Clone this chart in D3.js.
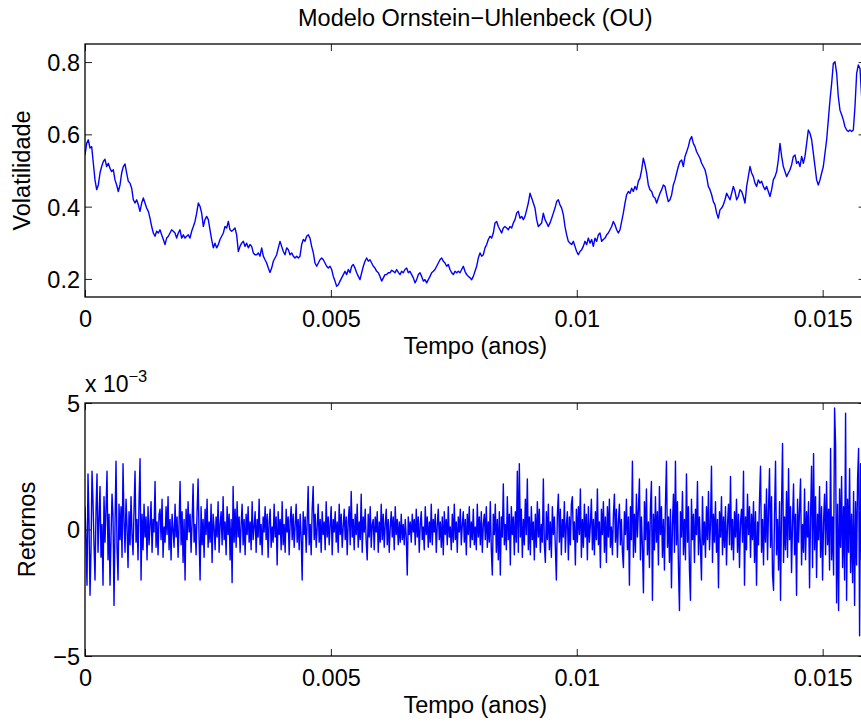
<!DOCTYPE html>
<html><head><meta charset="utf-8">
<script src="https://cdn.jsdelivr.net/npm/d3@7"></script>
<style>
body{margin:0;background:#fff}
svg{display:block;overflow:hidden}
text{font-family:"Liberation Sans",Arial,Helvetica,sans-serif;fill:#000}
</style>
</head><body>
<svg id="c" width="861" height="722"></svg>
<script>
// ---------- data ----------
const titleText = "Modelo Ornstein−Uhlenbeck (OU)";
const xLabel = "Tempo (anos)";
const yLabelTop = "Volatilidade";
const yLabelBottom = "Retornos";
const exponentBase = "x 10";
const exponentPower = "−3";
const xTicks = [0, 0.005, 0.01, 0.015];
const xTickLabels = ["0", "0.005", "0.01", "0.015"];
const volTicks = [0.2, 0.4, 0.6, 0.8];
const volTickLabels = ["0.2", "0.4", "0.6", "0.8"];
const retTicks = [-5e-3, 0, 5e-3];
const retTickLabels = ["−5", "0", "5"];
const tEnd = 0.015873;           // end of the time axis (anos)
const volStep = 3.389e-5;        // time step between volatility readings
const retStep = 2.035e-5;        // time step between return readings
const volDomain = [0.15, 0.85];
const retDomain = [-5e-3, 5e-3];

// volatility path
const volatility = [
0.543,0.575,0.585,0.562,0.566,0.520,0.474,0.447,0.460,0.493,
0.511,0.525,0.531,0.511,0.520,0.506,0.497,0.502,0.474,0.460,
0.442,0.460,0.493,0.511,0.518,0.493,0.470,0.465,0.451,0.419,
0.410,0.419,0.405,0.387,0.410,0.424,0.410,0.396,0.387,0.368,
0.345,0.327,0.318,0.332,0.327,0.336,0.322,0.309,0.295,0.313,
0.318,0.327,0.336,0.332,0.327,0.313,0.327,0.336,0.313,0.322,
0.313,0.318,0.322,0.313,0.332,0.345,0.359,0.382,0.410,0.401,
0.382,0.345,0.364,0.373,0.364,0.336,0.309,0.286,0.299,0.286,
0.295,0.309,0.318,0.327,0.345,0.341,0.359,0.336,0.332,0.336,
0.341,0.322,0.276,0.290,0.299,0.304,0.290,0.299,0.286,0.295,
0.290,0.272,0.267,0.267,0.272,0.263,0.286,0.263,0.253,0.244,
0.230,0.218,0.230,0.249,0.258,0.267,0.286,0.304,0.290,0.276,
0.267,0.286,0.281,0.267,0.272,0.263,0.258,0.263,0.258,0.263,
0.295,0.309,0.304,0.318,0.322,0.313,0.290,0.272,0.244,0.235,
0.244,0.253,0.258,0.253,0.244,0.235,0.230,0.235,0.226,0.207,
0.194,0.180,0.184,0.194,0.203,0.212,0.221,0.212,0.226,0.217,
0.235,0.240,0.230,0.217,0.207,0.198,0.217,0.235,0.249,0.258,
0.249,0.253,0.244,0.235,0.230,0.221,0.217,0.207,0.194,0.203,
0.212,0.212,0.217,0.217,0.224,0.221,0.217,0.226,0.218,0.212,
0.221,0.217,0.226,0.230,0.217,0.221,0.212,0.203,0.189,0.198,
0.212,0.217,0.207,0.194,0.198,0.189,0.198,0.207,0.217,0.221,
0.226,0.235,0.244,0.253,0.258,0.249,0.244,0.235,0.240,0.226,
0.217,0.212,0.221,0.217,0.221,0.217,0.226,0.235,0.221,0.212,
0.207,0.203,0.198,0.207,0.221,0.235,0.258,0.272,0.263,0.267,
0.286,0.295,0.309,0.318,0.313,0.327,0.355,0.359,0.345,0.336,
0.327,0.341,0.345,0.341,0.336,0.345,0.341,0.355,0.364,0.382,
0.387,0.368,0.373,0.364,0.373,0.391,0.410,0.437,0.424,0.410,
0.396,0.364,0.345,0.350,0.355,0.382,0.364,0.355,0.345,0.355,
0.368,0.382,0.396,0.414,0.419,0.405,0.396,0.378,0.345,0.322,
0.304,0.299,0.295,0.304,0.290,0.276,0.267,0.276,0.281,0.290,
0.304,0.295,0.313,0.299,0.309,0.290,0.313,0.304,0.322,0.327,
0.304,0.309,0.313,0.322,0.327,0.336,0.345,0.359,0.350,0.336,
0.327,0.336,0.359,0.382,0.410,0.433,0.442,0.437,0.451,0.442,
0.456,0.447,0.470,0.479,0.502,0.534,0.516,0.493,0.460,0.447,
0.442,0.428,0.424,0.410,0.424,0.437,0.447,0.460,0.456,0.433,
0.414,0.419,0.433,0.460,0.474,0.493,0.511,0.525,0.529,0.511,
0.539,0.552,0.566,0.585,0.594,0.575,0.566,0.552,0.543,0.534,
0.520,0.511,0.502,0.483,0.456,0.447,0.433,0.414,0.405,0.382,
0.368,0.391,0.396,0.405,0.419,0.437,0.428,0.419,0.437,0.456,
0.442,0.419,0.428,0.447,0.442,0.428,0.410,0.456,0.483,0.511,
0.493,0.483,0.465,0.456,0.474,0.465,0.470,0.456,0.447,0.456,
0.442,0.428,0.447,0.474,0.483,0.497,0.529,0.575,0.539,0.511,
0.497,0.483,0.493,0.502,0.516,0.539,0.543,0.520,0.525,0.511,
0.539,0.520,0.539,0.575,0.612,0.603,0.585,0.548,0.511,0.474,
0.460,0.474,0.493,0.511,0.548,0.585,0.640,0.695,0.741,0.796,
0.801,0.769,0.704,0.667,0.654,0.640,0.621,0.612,0.608,0.612,
0.608,0.612,0.677,0.769,0.792,0.782,0.704
];

// returns, in units of 1e-3
const returnsE3 = [
0.9,-0.4,-2.2,2.2,0.3,-2.6,-0.8,2.3,1.1,-0.6,
-2.0,0.7,2.2,-0.9,0.4,1.7,-1.1,0.2,-2.2,1.3,
-0.5,0.8,2.3,-1.2,0.6,-2.2,-0.3,1.4,0.5,-3.0,
0.2,2.7,-0.7,-2.0,1.0,-0.4,0.9,-1.1,2.6,0.3,
-0.9,1.2,0.1,-1.5,0.7,-0.6,1.3,-0.2,-1.0,0.8,
2.3,-0.5,0.4,-1.2,1.1,2.8,-2.0,0.6,-0.8,1.0,
-0.3,0.5,-1.2,0.9,-0.6,0.2,1.1,-0.9,0.4,-0.1,
1.9,-0.7,0.3,-1.0,0.6,0.8,-0.4,1.2,-1.1,0.1,
-0.5,0.9,-0.2,1.3,-0.8,0.4,-1.2,0.6,0.0,-0.7,
1.0,-0.3,0.5,-1.1,0.2,1.9,-0.6,0.7,-1.3,0.4,
-2.0,0.8,-0.4,1.1,-0.1,0.6,-0.9,0.3,1.8,-0.5,
0.2,-1.0,0.7,2.0,-0.3,-2.0,0.9,-0.6,0.4,-1.1,
0.8,-0.2,1.2,-0.7,0.3,-0.5,1.0,-1.3,0.6,0.1,
-0.8,0.5,-0.3,1.1,-0.9,0.2,0.7,-0.6,1.3,-0.4,
0.3,-1.0,0.9,-0.2,0.6,-1.2,0.4,-2.1,1.7,-0.5,
0.8,-0.7,1.1,-0.3,0.5,-0.9,0.2,1.0,-0.6,0.4,
-1.0,0.6,-0.2,0.9,-0.5,0.3,-0.8,1.1,-0.4,0.1,
0.7,-0.9,0.4,-0.3,1.2,-0.6,0.2,-1.0,0.5,-0.1,
0.9,-0.4,0.6,-1.1,0.3,0.8,-0.7,0.1,-0.5,1.0,
-0.3,0.5,-1.4,0.7,-0.2,0.4,-0.8,1.1,-0.6,0.2,
-0.9,0.8,-0.1,0.5,-1.0,0.3,0.9,-0.4,0.6,-0.7,
0.2,1.0,-0.5,0.4,-0.8,0.6,-0.3,-2.0,0.7,-0.2,
0.5,-0.9,0.3,1.7,-0.6,0.2,-1.0,0.8,1.7,-0.4,
0.6,-0.7,0.1,1.0,-0.5,0.4,-0.9,0.7,-0.2,0.3,
-0.8,1.1,-0.3,0.5,-0.6,0.2,0.9,-1.0,0.4,-0.1,
0.7,-0.5,0.3,-0.9,1.0,-0.2,0.6,-0.7,0.1,0.8,
-0.4,0.5,-1.0,0.3,0.9,-0.6,1.5,-0.3,0.4,-0.8,
0.6,-0.2,1.0,-0.7,0.3,-0.4,1.4,-0.9,0.5,-0.1,
0.8,-0.5,-1.2,0.6,-0.3,0.9,-0.7,0.2,0.4,-0.8,
0.5,-0.1,0.7,-0.9,0.3,-0.5,1.0,-0.4,0.6,-0.7,
0.2,0.8,-0.6,0.4,-0.9,0.1,0.7,-0.3,0.5,-0.8,
0.9,-0.2,0.4,-0.6,0.3,-0.5,0.6,-0.4,0.2,-0.6,
0.4,-0.3,-1.8,0.5,-0.2,0.3,-0.5,0.6,-0.1,0.4,
-0.6,0.8,-0.3,0.5,-0.9,0.2,0.7,-0.4,0.1,-0.8,
0.9,-0.2,0.5,-0.7,0.3,-0.5,1.0,-0.6,0.4,-0.1,
0.6,-0.9,0.2,0.8,-0.4,0.3,-0.7,0.5,-1.0,0.7,
-0.2,0.4,-0.6,0.9,-0.3,0.1,-0.8,0.6,-0.5,1.0,
-0.4,0.3,-0.9,0.5,-0.1,0.8,-0.6,0.2,0.7,-0.5,
0.4,-1.0,0.6,-0.2,0.9,-0.7,0.3,-0.4,0.8,-0.6,
0.1,-0.8,1.0,-0.3,0.5,-0.6,0.7,-0.9,0.2,0.6,
-0.4,0.9,-0.7,0.3,-0.5,1.1,-0.8,-1.8,0.6,-0.2,
1.0,-0.9,0.4,-1.2,0.7,-1.8,0.5,-0.3,1.8,-0.6,
0.2,-0.8,1.3,-0.4,0.6,-1.4,0.9,-0.2,0.5,-1.0,
0.7,-0.5,2.3,-0.9,2.6,-0.3,0.8,-1.1,0.4,-0.6,
1.2,-0.2,2.0,-0.8,0.5,-1.0,0.9,-0.4,0.3,-1.2,
0.6,-0.7,1.1,-0.3,0.8,-0.9,0.2,-0.5,2.0,-0.6,
-1.3,0.7,-0.4,1.0,-0.8,0.3,-1.1,0.9,-0.2,0.5,
-0.7,-2.0,0.6,1.4,-0.5,0.8,-1.0,0.4,-0.3,1.1,
-0.9,0.2,0.7,-1.2,0.5,-0.6,1.0,1.3,-0.4,0.3,
-1.4,0.8,-0.5,0.9,-0.2,1.6,-1.1,0.4,-0.7,1.0,
-0.3,0.6,-1.2,0.9,-0.5,0.2,1.2,-0.8,0.4,-1.0,
0.7,-0.4,1.6,-0.6,0.3,-1.5,0.8,-0.2,1.1,-0.9,
0.5,-1.3,0.9,-0.3,1.2,-0.7,0.1,-1.0,0.6,1.4,
-0.5,0.8,-1.1,0.3,1.0,-0.6,0.4,-0.9,-1.5,0.7,
-0.2,1.2,-0.8,0.5,-2.2,0.9,-0.4,2.7,-1.1,0.6,
-0.9,1.4,-0.3,0.8,2.0,-1.2,0.5,-0.7,-2.5,1.1,
-0.4,1.6,-1.0,0.3,-1.5,0.9,1.9,-2.8,0.6,-0.8,
1.3,-0.5,0.7,-1.4,1.7,-0.2,0.9,-1.1,0.4,-1.6,
1.0,2.7,-0.7,0.5,-1.3,0.8,-2.3,0.2,1.4,-0.9,
2.7,-0.6,1.1,-1.5,-3.2,0.7,-0.3,1.5,-1.0,0.4,
-1.2,2.2,-0.5,0.9,-1.6,-2.8,1.2,-0.4,0.6,-1.3,
0.8,-0.2,1.9,-1.0,0.5,-0.7,-2.0,1.3,-0.6,0.3,
-1.1,0.9,-0.4,1.5,-0.8,0.2,2.5,-1.3,0.6,-0.5,
1.1,-0.9,0.4,-2.3,0.7,-0.3,1.3,-1.0,0.5,-0.7,
0.9,-1.4,0.2,1.0,-0.6,2.1,-0.8,0.4,-1.2,0.7,
-0.3,1.2,-0.9,0.6,-1.5,0.3,0.8,-0.5,2.3,-2.2,
0.5,-0.8,1.4,-0.2,0.9,-1.1,0.6,-0.4,1.1,-1.3,
0.7,-2.2,0.3,-0.6,1.2,2.5,-0.9,0.4,-1.4,1.0,
-0.5,1.6,-1.2,0.8,2.4,-0.7,1.3,-1.8,-2.4,0.6,
2.7,-1.0,0.4,-1.6,1.1,-2.8,0.9,3.4,-1.3,0.5,
-0.8,1.5,-1.1,2.4,-0.4,0.9,-1.7,0.3,1.8,-1.0,
0.6,-2.6,1.2,-0.5,0.8,2.0,-1.4,0.2,-0.9,1.6,
-1.2,0.7,-0.3,1.1,-2.3,0.5,2.5,-1.5,3.0,-0.8,
1.3,-1.9,0.6,-0.4,1.7,-1.1,0.9,-2.0,0.3,1.4,
-1.0,1.9,-0.6,0.8,-1.6,3.2,-1.2,0.5,-1.8,4.8,
3.4,-2.9,1.0,-3.2,1.6,-0.7,2.1,-1.5,0.9,-2.0,
4.6,-2.8,1.2,-0.9,2.4,-1.7,0.6,-2.1,1.5,-3.0,
1.1,-1.4,2.0,3.2,-4.2,2.6,-1.2,0.8,-1.9,1.3,
-0.6
];

// ---------- drawing ----------
const svg = d3.select("#c");
const W = 861, H = 722;
const FS = 23.5;
const left = 85, right = 865.6;
const top1 = 44, bot1 = 297, top2 = 403, bot2 = 656;
const tick = 7;

svg.append("rect").attr("width", W).attr("height", H).attr("fill", "#fff");

const x = d3.scaleLinear().domain([0, tEnd]).range([left, right]);
const yVol = d3.scaleLinear().domain(volDomain).range([bot1, top1]);
const yRet = d3.scaleLinear().domain(retDomain).range([bot2, top2]);

const defs = svg.append("defs");
defs.append("clipPath").attr("id", "clip1").append("rect")
  .attr("x", left).attr("y", top1).attr("width", right - left).attr("height", bot1 - top1);
defs.append("clipPath").attr("id", "clip2").append("rect")
  .attr("x", left).attr("y", top2).attr("width", right - left).attr("height", bot2 - top2);

function styleAxis(g) {
  g.select(".domain").remove();
  g.attr("font-family", null).attr("font-size", null);
  g.selectAll(".tick line").attr("stroke", "#222").attr("stroke-width", 1);
  g.selectAll("text").style("font-size", FS + "px");
}

function panel(yScale, top, bot, yTicks, yTickLabels, clipId, values, step, lineW) {
  const line = d3.line()
    .x((d, i) => x(i * step))
    .y(d => yScale(d));
  svg.append("path")
    .datum(values)
    .attr("clip-path", `url(#${clipId})`)
    .attr("fill", "none")
    .attr("stroke", "#0000ff")
    .attr("stroke-width", lineW)
    .attr("stroke-linejoin", "round")
    .attr("d", line);

  svg.append("g").attr("transform", `translate(0,${bot})`)
    .call(d3.axisBottom(x).tickValues(xTicks)
      .tickFormat((d, i) => xTickLabels[i])
      .tickSizeInner(-tick).tickSizeOuter(0).tickPadding(13.3))
    .call(styleAxis);
  svg.append("g").attr("transform", `translate(0,${top})`)
    .call(d3.axisTop(x).tickValues(xTicks).tickFormat("")
      .tickSizeInner(-tick).tickSizeOuter(0))
    .call(styleAxis);
  svg.append("g").attr("transform", `translate(${left},0)`)
    .call(d3.axisLeft(yScale).tickValues(yTicks)
      .tickFormat((d, i) => yTickLabels[i])
      .tickSizeInner(-tick).tickSizeOuter(0).tickPadding(5))
    .call(styleAxis)
    .call(g => g.selectAll("text").attr("dy", "0.36em"));
  svg.append("g").attr("transform", `translate(${right},0)`)
    .call(d3.axisRight(yScale).tickValues(yTicks).tickFormat("")
      .tickSizeInner(-tick).tickSizeOuter(0))
    .call(styleAxis);

  svg.append("rect")
    .attr("x", left).attr("y", top)
    .attr("width", right - left).attr("height", bot - top)
    .attr("fill", "none").attr("stroke", "#000").attr("stroke-width", 1.3);
}

panel(yVol, top1, bot1, volTicks, volTickLabels, "clip1", volatility, volStep, 1.4);
panel(yRet, top2, bot2, retTicks, retTickLabels, "clip2", returnsE3.map(v => v * 1e-3), retStep, 1.4);

const cx = (left + right) / 2;

svg.append("text").attr("x", cx).attr("y", 26)
  .attr("text-anchor", "middle").style("font-size", FS + "px").text(titleText);

svg.append("text").attr("x", cx).attr("y", bot1 + 57)
  .attr("text-anchor", "middle").style("font-size", FS + "px").text(xLabel);
svg.append("text").attr("x", cx).attr("y", bot2 + 57)
  .attr("text-anchor", "middle").style("font-size", FS + "px").text(xLabel);

svg.append("text")
  .attr("transform", `translate(30,${(top1 + bot1) / 2}) rotate(-90)`)
  .attr("text-anchor", "middle").style("font-size", FS + "px").text(yLabelTop);
svg.append("text")
  .attr("transform", `translate(35,${(top2 + bot2) / 2}) rotate(-90)`)
  .attr("text-anchor", "middle").style("font-size", FS + "px").text(yLabelBottom);

const ex = svg.append("text").attr("x", left).attr("y", 392).style("font-size", "23px");
ex.append("tspan").text(exponentBase);
ex.append("tspan").attr("dy", -10.5).style("font-size", "16.5px").text(exponentPower);
</script>
</body></html>
